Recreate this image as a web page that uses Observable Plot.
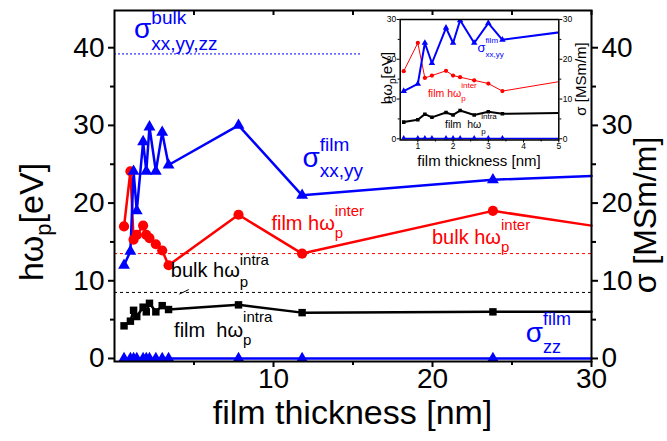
<!DOCTYPE html>
<html>
<head>
<meta charset="utf-8">
<script src="https://cdn.jsdelivr.net/npm/d3@7"></script>
<script src="https://cdn.jsdelivr.net/npm/@observablehq/plot@0.6"></script>
<style>
  html, body { margin: 0; padding: 0; background: #fff; }
  #chart { position: relative; width: 667px; height: 441px; }
  #chart > svg { position: absolute; left: 0; top: 0; }
  #chart > svg.inset { left: 355px; top: 0; }
</style>
</head>
<body>
<div id="chart"></div>
<script>
// Sampled film thicknesses (nm); markers sit on these points
const thickness = [0.6, 1.0, 1.2, 1.4, 1.8, 2.0, 2.2, 2.6, 3.0, 3.4, 7.8, 11.8, 23.8];
// the connecting lines carry on to the right edge of the axis
const lineEnd = 30;

// in-plane conductivity of the film, sigma xx,yy [MSm/m]
const sigmaXX = [12.0, 13.8, 24.1, 19.0, 27.9, 24.1, 29.8, 24.1, 29.1, 24.9, 30.0, 21.0, 23.0];
const sigmaXXEnd = 23.5;
// out-of-plane conductivity of the film, sigma zz [MSm/m]
const sigmaZZ = [0, 0, 0, 0, 0, 0, 0, 0, 0, 0, 0, 0, 0];
const sigmaZZEnd = 0;
// interband plasma energy of the film [eV]
const omegaInter = [17.0, 24.1, 15.3, 15.9, 17.1, 15.9, 15.5, 14.7, 13.9, 12.0, 18.5, 13.5, 19.0];
const omegaInterEnd = 17.1;
// intraband plasma energy of the film [eV]
const omegaIntra = [4.2, 4.8, 6.2, 5.4, 6.6, 6.0, 7.1, 6.0, 6.8, 6.3, 6.9, 5.9, 6.0];
const omegaIntraEnd = 6.0;

// bulk reference levels
const bulkSigma = 39.2;
const bulkSigmaSpan = [0, 15.6];
const bulkInter = 13.5;
const bulkIntra = 8.5;
// short leader from the "bulk" intraband label to its dashed level
const intraLeader = [[4.1, 8.3], [4.65, 8.85]];

// tick values
const mainXTicks = [10, 20, 30];
const mainXMinor = [5, 15, 25];
const mainYTicks = [0, 10, 20, 30, 40];
const mainYMinor = [5, 15, 25, 35];
const insetXTicks = [1, 2, 3, 4, 5];
const insetXMinor = [1.5, 2.5, 3.5, 4.5];
const insetYTicks = [0, 10, 20, 30];
const insetYMinor = [5, 15, 25];

const BLUE = "#0000ff", RED = "#ff0000", BLACK = "#000000";
const FONT = '"Liberation Sans", Arial, Helvetica, sans-serif';

const series = [
  {values: omegaIntra, end: omegaIntraEnd, color: BLACK, symbol: "square"},
  {values: omegaInter, end: omegaInterEnd, color: RED, symbol: "circle"},
  {values: sigmaZZ, end: sigmaZZEnd, color: BLUE, symbol: "triangle"},
  {values: sigmaXX, end: sigmaXXEnd, color: BLUE, symbol: "triangle"}
];
const lineRows = s => [...thickness.map((x, i) => ({x, y: s.values[i]})), {x: lineEnd, y: s.end}];
const dotRows = s => thickness.map((x, i) => ({x, y: s.values[i]}));

// ---- rich text (sub/superscripts) drawn through the plot scales ----
const measureCtx = document.createElement("canvas").getContext("2d");
function textWidth(t, size) {
  measureCtx.font = `${size}px ${FONT}`;
  return measureCtx.measureText(t).width;
}
function addText(g, x, y, size, t) {
  g.append("text").attr("x", x).attr("y", y).attr("font-size", size)
    .attr("text-anchor", "start").style("white-space", "pre").text(t);
}
function layoutParts(g, parts) {
  let cx = 0;
  for (const p of parts) {
    if (p.t != null) {
      addText(g, cx, 0, p.size, p.t);
      cx += textWidth(p.t, p.size);
    } else {
      let w = 0;
      if (p.sup) { addText(g, cx, -p.up, p.size, p.sup); w = Math.max(w, textWidth(p.sup, p.size)); }
      if (p.sub) { addText(g, cx, p.down, p.size, p.sub); w = Math.max(w, textWidth(p.sub, p.size)); }
      cx += w;
    }
  }
  return cx;
}
function drawLabel(root, px, py, lab) {
  const g = root.append("g").attr("fill", lab.color || BLACK);
  const inner = g.append("g");
  const w = layoutParts(inner, lab.parts);
  const shift = lab.center ? -w / 2 : 0;
  inner.attr("transform", `translate(${shift},0)`);
  g.attr("transform", `translate(${px},${py})` + (lab.rotate ? ` rotate(${lab.rotate})` : ""));
}
// labels anchored in data coordinates
function labelMark(labels) {
  return (index, scales) => {
    const root = d3.create("svg:g").attr("font-family", FONT).attr("text-anchor", "start");
    for (const lab of labels) drawLabel(root, scales.x(lab.x), scales.y(lab.y), lab);
    return root.node();
  };
}
// axis titles anchored in pixels
function titleMark(titles) {
  return () => {
    const root = d3.create("svg:g").attr("font-family", FONT).attr("text-anchor", "start");
    for (const lab of titles) drawLabel(root, lab.px, lab.py, lab);
    return root.node();
  };
}

const mainLabels = [
  {x: 1.26, y: 41.2, color: BLUE, parts: [{t: "σ", size: 28}, {sup: "bulk", sub: "xx,yy,zz", size: 19, up: 14, down: 12}]},
  {x: 11.85, y: 24.6, color: BLUE, parts: [{t: "σ", size: 28}, {sup: "film", sub: "xx,yy", size: 19, up: 16, down: 10}]},
  {x: 9.9, y: 16.5, color: RED, parts: [{t: "film hω", size: 20}, {sup: "inter", sub: "p", size: 15, up: 14, down: 8}]},
  {x: 20.0, y: 14.7, color: RED, parts: [{t: "bulk hω", size: 20}, {sup: "inter", sub: "p", size: 15, up: 14, down: 8}]},
  {x: 3.57, y: 10.4, color: BLACK, parts: [{t: "bulk hω", size: 20}, {sup: "intra", sub: "p", size: 15, up: 12, down: 10}]},
  {x: 3.78, y: 2.74, color: BLACK, parts: [{t: "film  hω", size: 20}, {sup: "intra", sub: "p", size: 15, up: 15, down: 8}]},
  {x: 25.9, y: 2.1, color: BLUE, parts: [{t: "σ", size: 28}, {sup: "film", sub: "zz", size: 18, up: 17, down: 11}]}
];
const mainTitles = [
  {px: 352.5, py: 424, center: true, parts: [{t: "film thickness [nm]", size: 34}]},
  {px: 43, py: 222, rotate: -90, center: true, parts: [{t: "hω", size: 34}, {sub: "p", size: 22, down: 8}, {t: "[eV]", size: 34}]},
  {px: 656, py: 215, rotate: -90, center: true, parts: [{t: "σ [MSm/m]", size: 32}]}
];
const insetLabels = [
  {x: 2.71, y: 21.7, color: BLUE, parts: [{t: "σ", size: 13}, {sup: "film", sub: "xx,yy", size: 8, up: 9, down: 5}]},
  {x: 1.30, y: 10.5, color: RED, parts: [{t: "film hω", size: 10.5}, {sup: "inter", sub: "p", size: 8, up: 9, down: 4.5}]},
  {x: 1.785, y: 2.5, color: BLACK, parts: [{t: "film  hω", size: 10.5}, {sup: "intra", sub: "p", size: 8, up: 9, down: 6}]}
];
const insetTitles = [
  {px: 124, py: 166, center: true, parts: [{t: "film thickness [nm]", size: 15}]},
  {px: 37, py: 78, rotate: -90, center: true, parts: [{t: "hω", size: 15}, {sub: "p", size: 10, down: 4}, {t: "[eV]", size: 15}]},
  {px: 231, py: 79, rotate: -90, center: true, parts: [{t: "σ [MSm/m]", size: 15}]}
];

// ---- series marks at a given scale ----
function seriesMarks(opts) {
  const marks = [];
  for (const s of series) {
    const lw = s.color === RED ? opts.redWidth : opts.lineWidth;
    marks.push(Plot.line(lineRows(s), {x: "x", y: "y", stroke: s.color, strokeWidth: lw, clip: opts.clip}));
  }
  for (const s of series) {
    const r = opts.r[s.symbol];
    marks.push(Plot.dot(dotRows(s), {x: "x", y: "y", symbol: s.symbol, r, fill: s.color, stroke: "none", clip: opts.clip}));
  }
  return marks;
}

const main = Plot.plot({
  width: 667, height: 441,
  marginLeft: 114, marginRight: 76, marginTop: 10, marginBottom: 80,
  x: {domain: [0, 30], axis: null},
  y: {domain: [-0.39, 44.79], axis: null},
  style: {fontFamily: FONT, background: "white", color: "black", overflow: "visible"},
  marks: [
    Plot.ruleY([bulkSigma], {x1: bulkSigmaSpan[0], x2: bulkSigmaSpan[1], stroke: BLUE, strokeWidth: 1, strokeDasharray: "2,2"}),
    Plot.ruleY([bulkInter], {stroke: RED, strokeWidth: 1, strokeDasharray: "3,3"}),
    Plot.ruleY([bulkIntra], {stroke: BLACK, strokeWidth: 1, strokeDasharray: "3,3"}),
    ...seriesMarks({lineWidth: 2.5, redWidth: 2.5, r: {square: 4.2, circle: 5.1, triangle: 4.4}, clip: false}),
    Plot.line(intraLeader, {x: d => d[0], y: d => d[1], stroke: BLACK, strokeWidth: 1}),
    Plot.frame({stroke: BLACK, strokeWidth: 2}),
    Plot.axisX(mainXTicks, {anchor: "bottom", tickSize: 6, tickPadding: 1, fontSize: 28, strokeWidth: 2, label: null}),
    Plot.axisX(mainXMinor, {anchor: "bottom", tickSize: 4, strokeWidth: 2, tickFormat: () => "", label: null}),
    Plot.axisX([...mainXMinor, ...mainXTicks], {anchor: "bottom", frameAnchor: "top", tickSize: 5, strokeWidth: 2, tickFormat: () => "", label: null}),
    Plot.axisY(mainYTicks, {anchor: "left", tickSize: 6, tickPadding: 4, fontSize: 28, strokeWidth: 2, label: null}),
    Plot.axisY(mainYMinor, {anchor: "left", tickSize: 4, strokeWidth: 2, tickFormat: () => "", label: null}),
    Plot.axisY(mainYTicks, {anchor: "right", tickSize: 6, tickPadding: 4, fontSize: 28, strokeWidth: 2, label: null}),
    Plot.axisY(mainYMinor, {anchor: "right", tickSize: 4, strokeWidth: 2, tickFormat: () => "", label: null}),
    labelMark(mainLabels),
    titleMark(mainTitles)
  ]
});

const inset = Plot.plot({
  width: 245, height: 175,
  marginLeft: 44.7, marginRight: 41.7, marginTop: 19, marginBottom: 35.5,
  x: {domain: [0.5, 5], axis: null},
  y: {domain: [-0.3, 30], axis: null},
  style: {fontFamily: FONT, background: "none", color: "black", overflow: "visible"},
  marks: [
    Plot.frame({fill: "white", stroke: "none"}),
    ...seriesMarks({lineWidth: 2, redWidth: 1, r: {square: 2, circle: 2.1, triangle: 2.4}, clip: true}),
    Plot.frame({stroke: BLACK, strokeWidth: 1.5}),
    Plot.axisX(insetXTicks, {anchor: "bottom", tickSize: 3, tickPadding: 0, fontSize: 8.5, strokeWidth: 1, label: null}),
    Plot.axisX(insetXMinor, {anchor: "bottom", tickSize: 2, strokeWidth: 1, tickFormat: () => "", label: null}),
    Plot.axisY(insetYTicks, {anchor: "left", tickSize: 3, tickPadding: 1, fontSize: 8.5, strokeWidth: 1, label: null}),
    Plot.axisY(insetYMinor, {anchor: "left", tickSize: 2, strokeWidth: 1, tickFormat: () => "", label: null}),
    Plot.axisY(insetYTicks, {anchor: "right", tickSize: 3, tickPadding: 1, fontSize: 8.5, strokeWidth: 1, label: null}),
    Plot.axisY(insetYMinor, {anchor: "right", tickSize: 2, strokeWidth: 1, tickFormat: () => "", label: null}),
    labelMark(insetLabels),
    titleMark(insetTitles)
  ]
});
inset.classList.add("inset");

const chart = document.getElementById("chart");
chart.append(main, inset);
</script>
</body>
</html>
